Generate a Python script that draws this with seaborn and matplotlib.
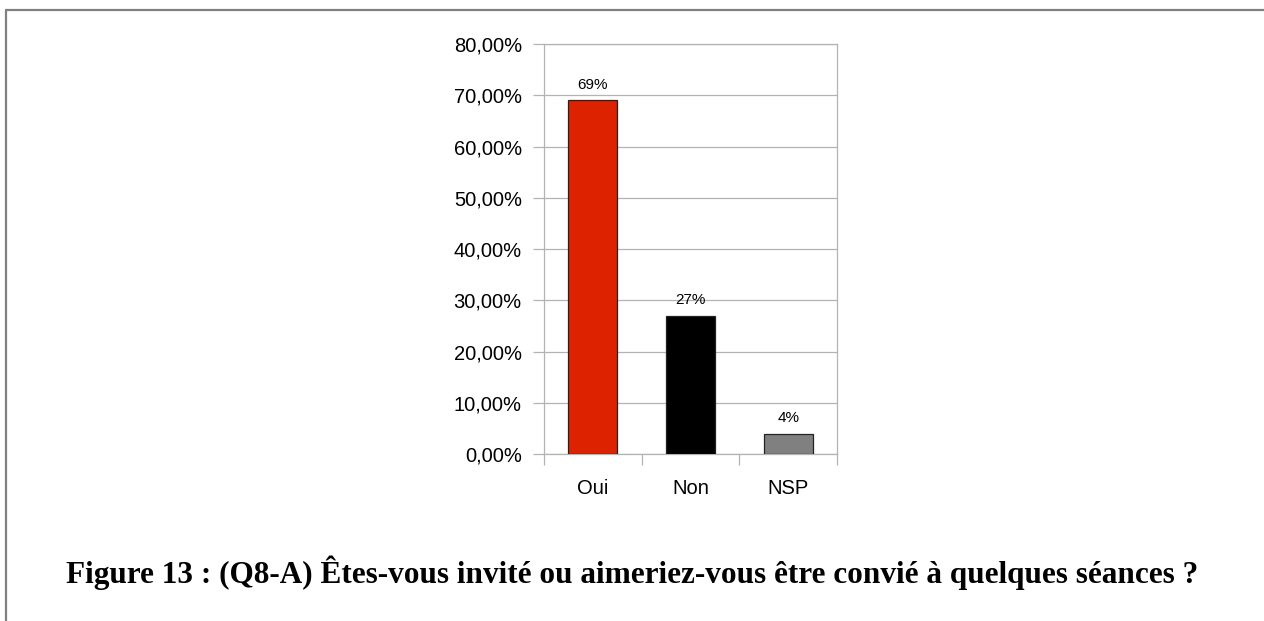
import seaborn as sns
import pandas as pd
import matplotlib.pyplot as plt
from matplotlib.lines import Line2D
from matplotlib.ticker import FixedLocator

# Data
categories = ['Oui', 'Non', 'NSP']
values = [69, 27, 4]
bar_colors = ['#DD2200', '#000000', '#808080']
caption = 'Figure 13 : (Q8-A) Êtes-vous invité ou aimeriez-vous être convié à quelques séances ?'

df = pd.DataFrame({'Réponse': categories, 'Valeur': values})

sns.set_style('white')
plt.rcParams['font.family'] = ['Liberation Sans', 'DejaVu Sans']
plt.rcParams['text.color'] = 'black'
plt.rcParams['xtick.color'] = 'black'
plt.rcParams['ytick.color'] = 'black'

fig = plt.figure(figsize=(12.64, 6.21), dpi=100)
ax = fig.add_axes([0.4304, 0.2689, 0.2318, 0.6602])

sns.barplot(data=df, x='Réponse', y='Valeur', hue='Réponse',
            palette=dict(zip(categories, bar_colors)), width=0.5, saturation=1,
            edgecolor='#222222', linewidth=0.9, legend=False, ax=ax, zorder=3)

ax.set_ylim(0, 80)
ax.set_xlim(-0.5, 2.5)
ax.set_yticks(range(0, 81, 10))
ax.set_yticklabels([f'{v},00%' for v in range(0, 81, 10)])
ax.grid(axis='y', color='#b3b3b3', linewidth=0.9, zorder=0)
ax.set_xlabel('')
ax.set_ylabel('')

# category labels, with tick marks at the category boundaries
ax.tick_params(axis='x', which='major', bottom=True, length=0, labelsize=14.5,
               labelcolor='black', pad=18)
ax.xaxis.set_minor_locator(FixedLocator([-0.5, 0.5, 1.5, 2.5]))
ax.tick_params(axis='x', which='minor', bottom=True, length=8,
               color='#b3b3b3', width=0.9)
ax.tick_params(axis='y', left=True, length=8, color='#b3b3b3', width=0.9,
               labelsize=14.5, labelcolor='black', pad=8)

for s in ax.spines.values():
    s.set_color('#b3b3b3')
    s.set_linewidth(0.9)

for i, v in enumerate(values):
    ax.text(i, v + 1.6, f'{v}%', ha='center', va='bottom', fontsize=11,
            color='black')

fig.text(0.5, 0.077, caption, ha='center', va='center', fontsize=22.5,
         fontweight='bold', color='black',
         family=['Liberation Serif', 'DejaVu Serif'])

# page frame (top and left edges)
fig.add_artist(Line2D([5.5 / 1264, 1.0], [1 - 9.5 / 621] * 2,
                      transform=fig.transFigure, color='#808080', linewidth=1.6))
fig.add_artist(Line2D([5.5 / 1264] * 2, [0.0, 1 - 9.5 / 621],
                      transform=fig.transFigure, color='#808080', linewidth=1.6))

fig.savefig('out.png', dpi=100)
